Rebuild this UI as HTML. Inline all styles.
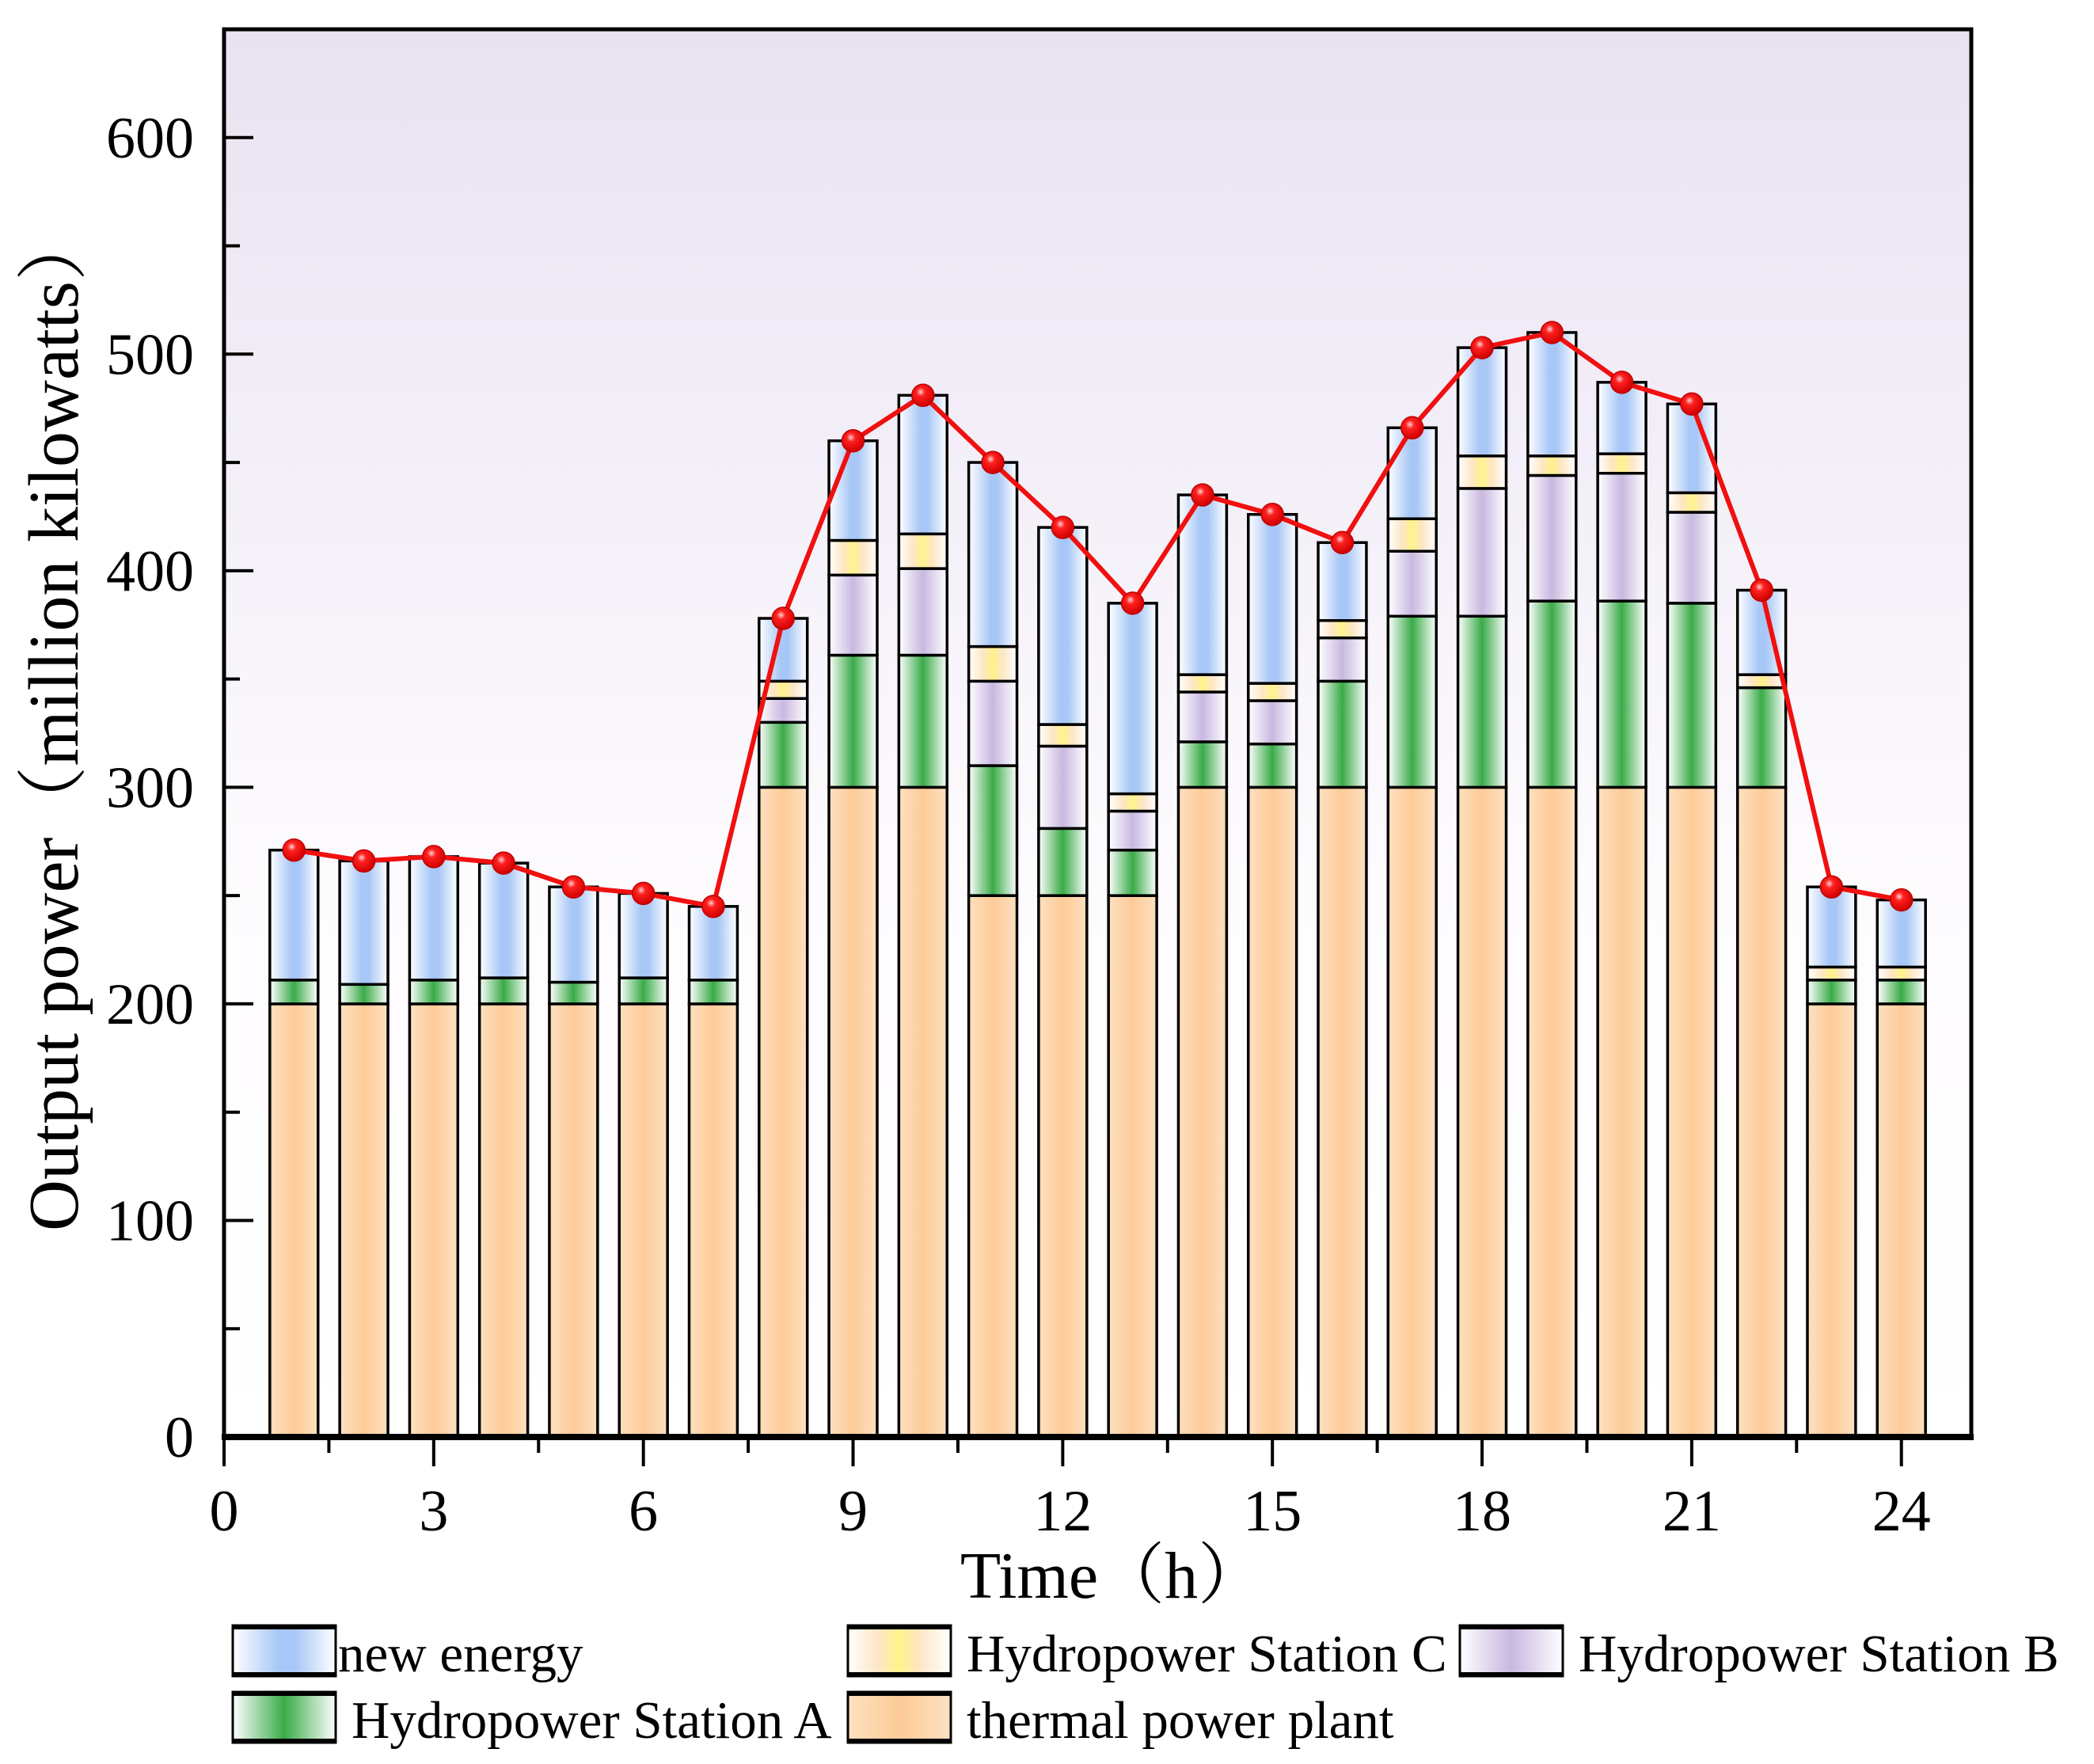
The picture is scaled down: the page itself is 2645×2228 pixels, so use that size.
<!DOCTYPE html>
<html><head><meta charset="utf-8"><style>
html,body{margin:0;padding:0;background:#fff}
svg{display:block;font-family:"Liberation Serif","Noto Serif CJK SC",serif}
</style></head><body>
<svg id="chart" width="2645" height="2228" viewBox="0 0 2645 2228" xmlns="http://www.w3.org/2000/svg">
<defs>
<linearGradient id="bgGrad" x1="0" y1="0" x2="0" y2="1">
<stop offset="0" stop-color="#e9e2f1"/><stop offset="0.6" stop-color="#fdfbfe"/><stop offset="1" stop-color="#ffffff"/>
</linearGradient>
<linearGradient id="gNew" x1="0" x2="1"><stop offset="0" stop-color="#fff"/><stop offset="0.45" stop-color="#a7c7f6"/><stop offset="0.6" stop-color="#a7c7f6"/><stop offset="1" stop-color="#fff"/></linearGradient>
<linearGradient id="gC" x1="0" x2="1"><stop offset="0" stop-color="#fff"/><stop offset="0.3" stop-color="#fde6c4"/><stop offset="0.5" stop-color="#fff38a"/><stop offset="0.7" stop-color="#fde6c4"/><stop offset="1" stop-color="#fff"/></linearGradient>
<linearGradient id="gB" x1="0" x2="1"><stop offset="0" stop-color="#fff"/><stop offset="0.5" stop-color="#c8b8e0"/><stop offset="1" stop-color="#fff"/></linearGradient>
<linearGradient id="gA" x1="0" x2="1"><stop offset="0" stop-color="#fff"/><stop offset="0.5" stop-color="#3aab48"/><stop offset="1" stop-color="#fff"/></linearGradient>
<linearGradient id="gT" x1="0" x2="1"><stop offset="0" stop-color="#fde0c0"/><stop offset="0.5" stop-color="#fdcb98"/><stop offset="1" stop-color="#fde0c0"/></linearGradient>
<radialGradient id="gDot" cx="0.4" cy="0.35" r="0.65"><stop offset="0" stop-color="#ffd0d0"/><stop offset="0.3" stop-color="#ff2020"/><stop offset="1" stop-color="#d00000"/></radialGradient>
</defs>
<g id="plot"></g>
</svg>
<script>
const hours = [1,2,3,4,5,6,7,8,9,10,11,12,13,14,15,16,17,18,19,20,21,22,23,24];
const thermal = [200,200,200,200,200,200,200,300,300,300,250,250,250,300,300,300,300,300,300,300,300,300,200,200];
const stationA = [11,9,11,12,10,12,11,30,61,61,60,31,21,21,20,49,79,79,86,86,85,46,11,11];
const stationB = [0,0,0,0,0,0,0,11,37,40,39,38,18,23,20,20,30,59,58,59,42,0,0,0];
const stationC = [0,0,0,0,0,0,0,8,16,16,16,10,8,8,8,8,15,15,9,9,9,6,6,6];
const newEnergy = [60,57,57,53,44,39,34,29,46,64,85,91,88,83,78,36,42,50,57,33,41,39,37,31];
const load = [271,266,268,265,254,251,245,378,460,481,450,420,385,435,426,413,466,503,510,487,477,391,254,248];
const xTicks = [0,3,6,9,12,15,18,21,24];
const yTicks = [0,100,200,300,400,500,600];

const L=283,R=2490,T=37,B=1815, XMAX=25, YMAX=650;
const xs = v => L + v/XMAX*(R-L);
const ys = v => B - v/YMAX*(B-T);
const NS="http://www.w3.org/2000/svg";
const g=document.getElementById('plot');
function mk(tag,attrs,parent){const e=document.createElementNS(NS,tag);for(const k in attrs)e.setAttribute(k,attrs[k]);(parent||g).appendChild(e);return e;}

const bg=mk('rect',{x:L,y:T,width:R-L,height:B-T,fill:'url(#bgGrad)'});



const bw=0.69*(R-L)/XMAX;
const series=[[thermal,'url(#gT)','thermal'],[stationA,'url(#gA)','station-a'],[stationB,'url(#gB)','station-b'],[stationC,'url(#gC)','station-c'],[newEnergy,'url(#gNew)','new-energy']];
hours.forEach((h,i)=>{
  let base=0;
  series.forEach(s=>{
    const v=s[0][i]; if(v<=0) return;
    const r=mk('rect',{x:xs(h)-bw/2,y:ys(base+v),width:bw,height:ys(base)-ys(base+v),fill:s[1],stroke:'#000','stroke-width':3.5});
    
    
    base+=v;
  });
});

const pts=hours.map((h,i)=>xs(h)+','+ys(load[i])).join(' ');
const pl=mk('polyline',{points:pts,fill:'none',stroke:'#f01010','stroke-width':6});


hours.forEach((h,i)=>{
  const c=mk('circle',{cx:xs(h),cy:ys(load[i]),r:14,fill:'url(#gDot)',stroke:'#c00000','stroke-width':1.5});
  
  
});

const fr=mk('rect',{x:L,y:T,width:R-L,height:B-T,fill:'none',stroke:'#000','stroke-width':5});


const xa=mk('line',{x1:L-3,y1:B,x2:R+3,y2:B,stroke:'#000','stroke-width':8});



for(let v=0;v<=YMAX;v+=50){
  const major=v%100===0;
  const t=mk('line',{x1:L,y1:ys(v),x2:L+(major?37:20),y2:ys(v),stroke:'#000','stroke-width':4});
  
  
}
yTicks.forEach(v=>{
  const t=mk('text',{x:245,y:ys(v)+25,'text-anchor':'end','font-size':74,fill:'#000'});
  t.textContent=v;
  
  
});
for(let v=0;v<=24;v+=1.5){
  const major=v%3===0;
  const t=mk('line',{x1:xs(v),y1:B,x2:xs(v),y2:B+(major?37:20),stroke:'#000','stroke-width':4});
  
  
}
xTicks.forEach(v=>{
  const t=mk('text',{x:xs(v),y:1933,'text-anchor':'middle','font-size':74,fill:'#000'});
  t.textContent=v;
  
  
});
const xt=mk('text',{x:1405,y:2018,'text-anchor':'middle','font-size':84,fill:'#000'});
xt.textContent='Time（h）';


const yt=mk('text',{x:0,y:0,'text-anchor':'middle','font-size':90,fill:'#000',transform:'translate(98,910) rotate(-90)'});
yt.textContent='Output power（million kilowatts）';



const leg=[['url(#gNew)','new energy',294,2053,427],['url(#gC)','Hydropower Station C',1071,2053,1221],['url(#gB)','Hydropower Station B',1844,2053,1994],['url(#gA)','Hydropower Station A',294,2137,444],['url(#gT)','thermal power plant',1071,2137,1221]];
leg.forEach(l=>{
  const r=mk('rect',{x:l[2],y:l[3],width:130,height:64,fill:l[0],stroke:'#000','stroke-width':3});
  
  
  mk('line',{x1:l[2],y1:l[3]+2,x2:l[2]+130,y2:l[3]+2,stroke:'#000','stroke-width':6});
  mk('line',{x1:l[2],y1:l[3]+62,x2:l[2]+130,y2:l[3]+62,stroke:'#000','stroke-width':6});
  const t=mk('text',{x:l[4],y:l[3]+58,'font-size':67,fill:'#000'});
  t.textContent=l[1];
  
  
});
</script>
</body></html>
